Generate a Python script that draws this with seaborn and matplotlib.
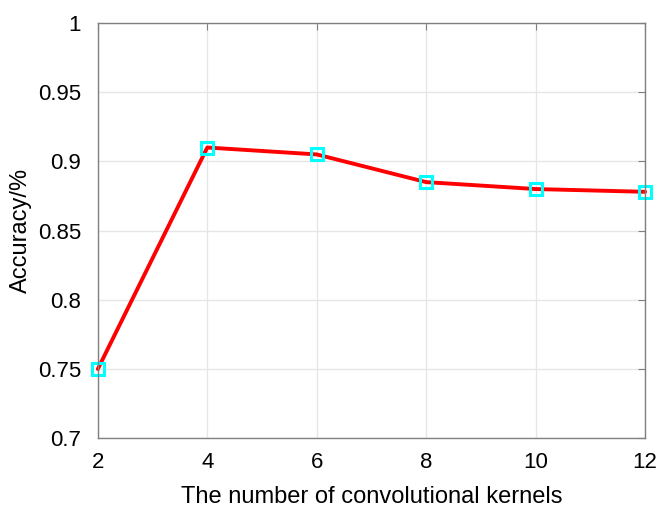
import pandas as pd
import matplotlib
matplotlib.use('Agg')
import matplotlib.pyplot as plt
import seaborn as sns

# data
kernels = [2, 4, 6, 8, 10, 12]
accuracy = [0.75, 0.91, 0.905, 0.885, 0.88, 0.878]
y_ticks = [0.7, 0.75, 0.8, 0.85, 0.9, 0.95, 1]
y_tick_labels = ['0.7', '0.75', '0.8', '0.85', '0.9', '0.95', '1']

df = pd.DataFrame({'kernels': kernels, 'accuracy': accuracy})

sns.set_style('white')
plt.rcParams['font.family'] = ['Liberation Sans', 'DejaVu Sans']
plt.rcParams['text.color'] = 'black'
plt.rcParams['axes.labelcolor'] = 'black'
plt.rcParams['xtick.color'] = 'black'
plt.rcParams['ytick.color'] = 'black'

fig = plt.figure(figsize=(6.61, 5.09), dpi=100)
ax = fig.add_axes([0.148, 0.139, 0.828, 0.816])

sns.lineplot(data=df, x='kernels', y='accuracy', ax=ax, color='red', linewidth=2.8,
             marker='s', markersize=8, markerfacecolor='none',
             markeredgecolor='cyan', markeredgewidth=2.2, clip_on=False)

ax.set_xlim(2, 12)
ax.set_ylim(0.7, 1)
ax.set_xticks(kernels)
ax.set_yticks(y_ticks)
ax.set_yticklabels(y_tick_labels)
ax.grid(True, color='#e6e6e6', linewidth=1)
ax.set_axisbelow(True)
for s in ax.spines.values():
    s.set_color('#808080')
    s.set_linewidth(1)
ax.tick_params(direction='in', length=5, color='#808080', labelcolor='black',
               labelsize=16, top=True, right=True)
ax.tick_params(axis='y', pad=12)
ax.tick_params(axis='x', pad=10)
ax.set_xlabel('The number of convolutional kernels', fontsize=17, labelpad=9)
ax.set_ylabel('Accuracy/%', fontsize=17, labelpad=4)

fig.savefig('out.png', dpi=100)
